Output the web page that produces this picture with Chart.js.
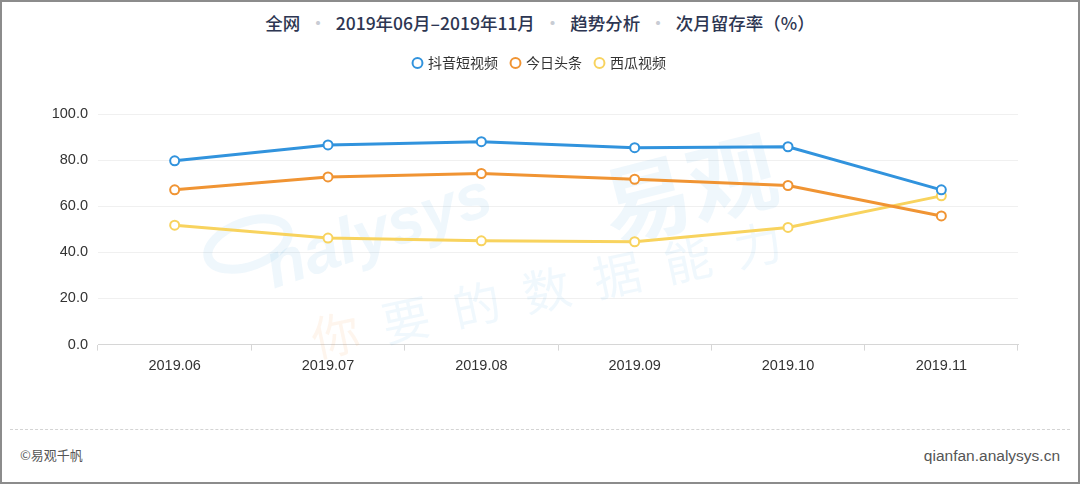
<!DOCTYPE html>
<html>
<head>
<meta charset="utf-8">
<script src="https://cdn.jsdelivr.net/npm/chart.js@4/dist/chart.umd.min.js"></script>
<style>
  html, body { margin: 0; padding: 0; background: #fff; }
  #frame {
    position: relative; width: 1080px; height: 484px; box-sizing: border-box;
    border: 2px solid #8c8c8c; overflow: hidden;
    font-family: "Helvetica Neue", Arial, "Noto Sans CJK SC", sans-serif;
  }
  #title {
    position: absolute; left: 0; right: 0; top: 8px; text-align: center;
    font-size: 17.5px; font-weight: 500; color: #2d3652; white-space: nowrap;
    font-family: "Noto Sans CJK SC", "Noto Sans", sans-serif;
  }
  #title .dot { color: #c8ccd4; margin: 0 9px; }
  #wrap { position: absolute; left: -2px; top: 40px; width: 1080px; height: 350px; }
  #rule { position: absolute; left: 8px; right: 8px; top: 427px; border-top: 1px dashed #d4d4d4; }
  .foot { position: absolute; top: 443px; font-size: 13px; color: #555; font-family: "Noto Sans CJK SC", sans-serif; }
  #fl { left: 18px; }
  #fr { right: 18px; top: 445px; font-family: "Liberation Sans", Arial, sans-serif; font-size: 15.5px; }
</style>
</head>
<body>
<div id="frame">
  <div id="title">全网<span class="dot">·</span>2019年06月–2019年11月<span class="dot">·</span>趋势分析<span class="dot">·</span>次月留存率（%）</div>
  <div id="wrap"><canvas id="chart"></canvas></div>
  <div id="rule"></div>
  <div class="foot" id="fl">©易观千帆</div>
  <div class="foot" id="fr">qianfan.analysys.cn</div>
</div>
<script>
// months on the x axis
const months = ['2019.06', '2019.07', '2019.08', '2019.09', '2019.10', '2019.11'];

// next-month retention (%)
const douyin   = [79.7, 86.6, 88.0, 85.4, 85.8, 67.1];   // 抖音短视频
const toutiao  = [67.1, 72.7, 74.2, 71.7, 69.0, 55.8];   // 今日头条
const xigua    = [51.8, 46.2, 45.0, 44.6, 50.8, 64.5];   // 西瓜视频

const seriesNames = ['抖音短视频', '今日头条', '西瓜视频'];
const seriesColors = ['#3193dd', '#f09433', '#f8d35e'];
const yTicks = [0, 20, 40, 60, 80, 100];

function makeSet(i, data) {
    return {
        label: seriesNames[i],
        data: data,
        borderColor: seriesColors[i],
        backgroundColor: seriesColors[i],
        borderWidth: 3,
        pointRadius: 4.5,
        pointHoverRadius: 4.5,
        pointBorderWidth: 2,
        pointBackgroundColor: '#fff',
        pointBorderColor: seriesColors[i],
        pointStyle: 'circle',
        tension: 0,
        fill: false
    };
}

// push the plot down a bit below the legend
const legendGap = {
    id: 'legendGap',
    beforeInit(chart) {
        const fit = chart.legend.fit;
        chart.legend.fit = function () {
            fit.bind(chart.legend)();
            this.height += 34;
        };
    },
    afterLayout(chart) {
        // legend sits centred on the whole canvas, not the plot
        chart.legend.left += 12;
        chart.legend.right += 12;
    }
};

// faint brand watermark behind the lines
const watermark = {
    id: 'watermark',
    beforeDatasetsDraw(chart) {
        const c = chart.ctx;
        c.save();
        c.globalAlpha = 0.08;
        c.fillStyle = '#2f95dc';
        c.font = 'italic bold 64px "Liberation Sans", Arial, sans-serif';
        c.translate(268, 230);
        c.rotate(-0.33);
        c.fillText('nalysys', 0, 0);
        c.restore();

        c.save();
        c.globalAlpha = 0.08;
        c.strokeStyle = '#2f95dc';
        c.lineWidth = 9;
        c.beginPath();
        c.ellipse(248, 202, 42, 22, -0.35, 0, Math.PI * 2);
        c.stroke();
        c.restore();

        c.save();
        c.globalAlpha = 0.08;
        c.fillStyle = '#2f95dc';
        c.font = 'bold 88px "Noto Sans CJK SC", sans-serif';
        c.translate(604, 168);
        c.rotate(-0.25);
        c.fillText('易观', 0, 0);
        c.restore();

        const words = ['你', '要', '的', '数', '据', '能', '力'];
        c.save();
        c.font = '48px "Noto Sans CJK SC", sans-serif';
        c.translate(312, 298);
        c.rotate(-0.21);
        words.forEach((w, i) => {
            c.globalAlpha = i === 0 ? 0.1 : 0.07;
            c.fillStyle = i === 0 ? '#f2994a' : '#2f95dc';
            c.fillText(w, i * 72, 0);
        });
        c.restore();
    }
};

const ctx = document.getElementById('chart').getContext('2d');
new Chart(ctx, {
    type: 'line',
    data: {
        labels: months,
        datasets: [makeSet(0, douyin), makeSet(1, toutiao), makeSet(2, xigua)]
    },
    plugins: [legendGap, watermark],
    options: {
        responsive: true,
        maintainAspectRatio: false,
        animation: false,
        layout: { padding: { left: 38, right: 62, top: 0, bottom: 10 } },
        plugins: {
            legend: {
                position: 'top',
                align: 'center',
                labels: {
                    usePointStyle: true,
                    boxWidth: 7,
                    boxHeight: 7,
                    padding: 14,
                    color: '#333',
                    font: { family: '"Noto Sans CJK SC", sans-serif', size: 14 }
                }
            },
            tooltip: { enabled: false }
        },
        scales: {
            x: {
                offset: true,
                grid: {
                    offset: true,
                    drawOnChartArea: false,
                    drawTicks: true,
                    tickLength: 6,
                    color: '#d6d6d6'
                },
                border: { color: '#d6d6d6' },
                ticks: {
                    color: '#333',
                    padding: 7,
                    font: { family: '"Helvetica Neue", Arial, sans-serif', size: 14.5 }
                }
            },
            y: {
                min: 0,
                max: 100,
                afterFit: (s) => { s.width = 60; },
                afterBuildTicks: (s) => { s.ticks = yTicks.map(v => ({ value: v })); },
                grid: { color: '#f0f0f0', drawTicks: false },
                border: { display: false },
                ticks: {
                    color: '#333',
                    padding: 10,
                    font: { family: '"Helvetica Neue", Arial, sans-serif', size: 14.5 },
                    callback: (v) => Number(v).toFixed(1)
                }
            }
        }
    }
});
</script>
</body>
</html>
